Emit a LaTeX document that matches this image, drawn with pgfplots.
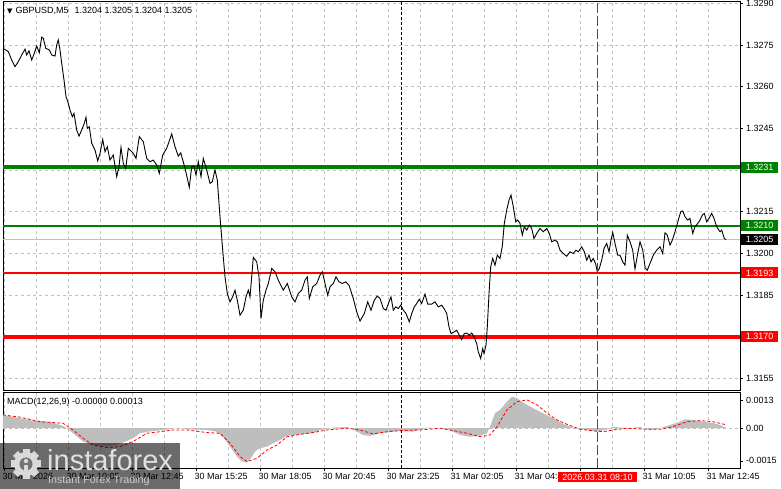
\documentclass[border=0pt]{standalone}
\usepackage{pgfplots}
\pgfplotsset{compat=1.18}
\usepackage{fontspec}
\setmainfont{Liberation Sans}
\newfontfamily\symfont{DejaVu Sans}
\definecolor{mtgreen}{RGB}{0,128,0}
\definecolor{mtred}{RGB}{255,0,0}
\definecolor{gridgray}{RGB}{192,192,192}
\definecolor{histgray}{RGB}{190,190,190}
\pgfplotsset{
  mtaxis/.style={
    scale only axis, width=737pt, xmin=3, xmax=740,
    axis line style={black, line width=0.8pt},
    grid style={gridgray, dash pattern=on 3pt off 3pt, line width=0.7pt},
    major grid style={gridgray, dash pattern=on 3pt off 3pt, line width=0.7pt},
    minor grid style={gridgray, dash pattern=on 3pt off 3pt, line width=0.7pt},
    tick style={black, line width=0.7pt},
    major tick length=3pt, minor tick length=0pt, tick align=outside,
    ytick pos=right, yticklabel pos=right,
    clip mode=individual,
    scaled y ticks=false,
    /pgf/number format/assume math mode=true,
    yticklabel style={anchor=west, inner sep=0pt, xshift=3pt},
    every tick label/.append style={font=\fontsize{9}{10}\selectfont},
    xtick={4,68,...,708}, minor xtick={36,100,...,676},
    xmajorgrids, xminorgrids,
  }
}
\begin{document}
\begin{tikzpicture}[font=\fontsize{9}{10}\selectfont]
\useasboundingbox (0pt,0pt) rectangle (781pt,489pt);
\fill[white] (0pt,0pt) rectangle (781pt,489pt);

% ---------------- main price panel ----------------
\begin{axis}[mtaxis, at={(3pt,99pt)}, anchor=south west, height=389pt,
  ymin=1.31509, ymax=1.32908,
  ytick={1.3155,1.3170,1.3185,1.3200,1.3215,1.3230,1.3245,1.3260,1.3275,1.3290},
  ymajorgrids,
  xticklabel=\empty, xtick style={draw=none},
  yticklabel style={/pgf/number format/fixed,/pgf/number format/fixed zerofill,/pgf/number format/precision=4},
]
% current price line
\addplot[gridgray, line width=0.8pt] coordinates {(3,1.3205) (740,1.3205)};
% levels
\addplot[mtgreen, line width=4pt] coordinates {(3,1.3231) (740,1.3231)};
\addplot[mtgreen, line width=2pt] coordinates {(3,1.3210) (740,1.3210)};
\addplot[mtred, line width=2pt] coordinates {(3,1.3193) (740,1.3193)};
\addplot[mtred, line width=4pt] coordinates {(3,1.3170) (740,1.3170)};
% price
\addplot[black, line width=0.9pt] coordinates {
(3,1.32738) (8.3,1.32726) (11.7,1.32696) (15,1.32672) (18.3,1.32690) (21.7,1.32714) (25,1.32735) (26.7,1.32714) (29,1.32729) (31.7,1.32696) (34.3,1.32720) (36.7,1.32746) (39.3,1.32722) (41.7,1.32778) (43.3,1.32774) (45.7,1.32738) (49.3,1.32732) (51.7,1.32714) (55,1.32710) (56.7,1.32750) (58.3,1.32768) (60,1.32732) (61.7,1.32684) (64,1.32624) (66,1.32564) (68.3,1.32540) (70,1.32516) (72.3,1.32492) (74,1.32504) (76.7,1.32444) (79,1.32422) (81.7,1.32444) (84.3,1.32468) (86,1.32490) (87.3,1.32450) (89.3,1.32456) (91.7,1.32396) (95,1.32372) (97.7,1.32333) (100,1.32360) (102.7,1.32410) (105,1.32366) (107.3,1.32384) (110,1.32336) (113.3,1.32354) (116.7,1.32276) (119,1.32312) (121,1.32382) (123.3,1.32324) (125.7,1.32306) (128.3,1.32378) (130.7,1.32370) (133.3,1.32360) (136,1.32342) (139.3,1.32420) (143.3,1.32402) (146.7,1.32342) (150,1.32330) (153.3,1.32336) (156.7,1.32318) (159.3,1.32288) (162.7,1.32354) (166.7,1.32378) (171.7,1.32430) (175,1.32384) (178.3,1.32350) (180.7,1.32362) (185,1.32307) (189.3,1.32238) (191.7,1.32312) (194,1.32314) (196,1.32282) (198.3,1.32330) (201,1.32276) (203.3,1.32342) (206.7,1.32300) (210,1.32252) (212.3,1.32258) (215,1.32300) (217.3,1.32264) (220,1.32132) (222.7,1.32012) (225,1.31916) (227.3,1.31856) (230,1.31826) (232.7,1.31844) (235,1.31868) (237.3,1.31832) (240,1.31778) (243.3,1.31796) (246,1.31844) (248.3,1.31868) (250,1.31844) (253.3,1.31986) (256.7,1.31970) (259,1.31916) (261,1.31766) (263.3,1.31832) (266,1.31868) (268.3,1.31892) (271.7,1.31946) (275,1.31934) (278.3,1.31904) (283.3,1.31868) (287.3,1.31892) (291.7,1.31844) (295,1.31826) (298.3,1.31856) (301.7,1.31868) (305,1.31904) (307.3,1.31916) (309.3,1.31838) (312.7,1.31880) (316.7,1.31892) (320,1.31922) (322.3,1.31934) (325,1.31892) (327.7,1.31850) (330,1.31880) (333.3,1.31892) (336,1.31916) (339,1.31898) (342.3,1.31892) (345.7,1.31898) (349,1.31886) (353.3,1.31838) (356.7,1.31790) (360,1.31757) (364.3,1.31784) (367.7,1.31826) (371,1.31796) (374.3,1.31832) (377.3,1.31847) (380,1.31838) (383.3,1.31802) (386,1.31796) (389,1.31826) (391,1.31844) (393.3,1.31796) (395.7,1.31808) (398.3,1.31802) (400.7,1.31814) (403.3,1.31796) (406,1.31784) (409.3,1.31754) (411.7,1.31784) (414.3,1.31808) (416.7,1.31820) (419.3,1.31835) (421.7,1.31820) (425,1.31854) (427.7,1.31818) (431.7,1.31818) (435,1.31826) (438.3,1.31808) (441.7,1.31814) (444,1.31802) (446.7,1.31784) (449,1.31736) (451,1.31712) (454,1.31718) (456.7,1.31724) (459.3,1.31706) (461.7,1.31690) (464.3,1.31712) (466.7,1.31714) (469.3,1.31706) (471.7,1.31714) (474,1.31700) (476.7,1.31676) (478.3,1.31646) (480.7,1.31622) (482.7,1.31658) (484,1.31640) (486,1.31670) (487.3,1.31736) (489,1.31856) (490.7,1.31952) (492.7,1.31982) (495,1.31958) (497.3,1.31994) (500,1.31982) (502.3,1.32026) (504.3,1.32108) (506.7,1.32156) (509,1.32192) (511,1.32210) (513.3,1.32168) (515.7,1.32114) (517.7,1.32120) (520,1.32108) (522.3,1.32066) (524.3,1.32096) (526.7,1.32084) (529.3,1.32102) (531.7,1.32090) (534,1.32054) (536.7,1.32072) (540,1.32090) (543.3,1.32078) (546.7,1.32090) (549.3,1.32072) (551.7,1.32042) (555,1.32048) (557.3,1.32042) (560,1.32012) (563.3,1.32000) (566.7,1.31990) (570,1.32006) (573.3,1.32000) (576,1.32012) (578.3,1.32006) (581.7,1.32024) (584.3,1.32006) (586.7,1.31976) (589,1.31994) (591,1.31970) (593.3,1.31982) (595.7,1.31962) (597.3,1.31934) (599.3,1.31946) (601.7,1.31976) (604,1.32018) (606.7,1.32036) (609,1.32006) (611,1.32048) (612.7,1.32076) (615,1.32036) (617.7,1.31994) (620,1.31994) (622.7,1.31970) (625,1.31958) (627.3,1.32066) (630,1.32042) (632.7,1.32012) (635,1.31944) (637.7,1.32000) (640,1.32042) (642.7,1.32012) (645.3,1.31946) (647.3,1.31940) (650,1.31964) (653.3,1.31994) (656.7,1.32012) (660,1.32024) (662.7,1.32000) (665,1.32074) (667.3,1.32066) (670,1.32030) (672.3,1.32048) (675,1.32078) (678.3,1.32120) (680.7,1.32150) (682.7,1.32153) (685,1.32132) (687.7,1.32120) (690,1.32126) (692.7,1.32072) (695,1.32096) (697.7,1.32108) (700,1.32120) (702.3,1.32138) (704.3,1.32144) (706.7,1.32114) (709,1.32126) (711.7,1.32144) (714,1.32126) (716.7,1.32096) (720,1.32078) (721.7,1.32084) (724.3,1.32054) (726,1.32050)
};
% separators
\addplot[black, dash pattern=on 3pt off 2pt, line width=0.8pt] coordinates {(401.5,1.31509) (401.5,1.32908)};
\addplot[mtred, dash pattern=on 10pt off 3pt, line width=0.8pt] coordinates {(597.5,1.31509) (597.5,1.32908)};
% price boxes
\node[fill=mtgreen, text=white, anchor=west, inner sep=0pt, minimum height=11pt, minimum width=37pt, xshift=1pt] at (axis cs:740,1.3231) {1.3231};
\node[fill=mtgreen, text=white, anchor=west, inner sep=0pt, minimum height=11pt, minimum width=37pt, xshift=1pt] at (axis cs:740,1.3210) {1.3210};
\node[fill=black, text=white, anchor=west, inner sep=0pt, minimum height=11pt, minimum width=37pt, xshift=1pt] at (axis cs:740,1.3205) {1.3205};
\node[fill=mtred, text=white, anchor=west, inner sep=0pt, minimum height=11pt, minimum width=37pt, xshift=1pt] at (axis cs:740,1.3193) {1.3193};
\node[fill=mtred, text=white, anchor=west, inner sep=0pt, minimum height=11pt, minimum width=37pt, xshift=1pt] at (axis cs:740,1.3170) {1.3170};
\end{axis}

% ---------------- MACD panel ----------------
\begin{axis}[mtaxis, at={(3pt,20.7pt)}, anchor=south west, height=76pt,
  ymin=-0.00184, ymax=0.00165,
  ytick={-0.0015,0,0.0013}, yticklabels={-0.0015,0.00,0.0013},
  xtick pos=bottom,
  xticklabels={30 Mar 2026,30 Mar 10:05,30 Mar 12:45,30 Mar 15:25,30 Mar 18:05,30 Mar 20:45,30 Mar 23:25,31 Mar 02:05,31 Mar 04:45,31 Mar 07:25,31 Mar 10:05,31 Mar 12:45},
  xticklabel style={anchor=north west, inner sep=0pt, xshift=-1.5pt, yshift=-2pt},
]
\addplot[gridgray, dash pattern=on 3pt off 3pt, line width=0.7pt] coordinates {(3,0) (740,0)};
\addplot[fill=histgray, draw=none] coordinates {
(3,0) (3,0.00061) (20,0.00046) (33,0.00035) (50,0.00030) (63,0.00010) (67,0) (73,-0.00023) (83,-0.00061) (93,-0.00077) (107,-0.00084) (117,-0.00077) (127,-0.00058) (133,-0.00046) (140,-0.00023) (147,-0.00016) (157,-0.00011) (170,-0.00005) (177,0.00003) (187,-0.00005) (207,-0.00008) (217,-0.00016) (223,-0.00039) (230,-0.00084) (237,-0.00130) (242,-0.00153) (247,-0.00158) (252,-0.00130) (255,-0.00107) (260,-0.00092) (267,-0.00084) (273,-0.00069) (280,-0.00054) (287,-0.00035) (300,-0.00028) (313,-0.00022) (320,-0.00008) (333,0.00003) (347,0.00005) (353,-0.00005) (363,-0.00031) (370,-0.00035) (380,-0.00023) (393,-0.00016) (400,-0.00011) (413,-0.00016) (427,0.00003) (440,0) (450,-0.00008) (460,-0.00031) (470,-0.00039) (480,-0.00035) (487,-0.00023) (490,0.00007) (495,0.00069) (500,0.00084) (507,0.00122) (512,0.00145) (517,0.00138) (523,0.00118) (533,0.00092) (543,0.00069) (553,0.00046) (563,0.00020) (573,0.00003) (587,-0.00008) (597,-0.00016) (607,-0.00005) (613,0.00007) (627,0) (640,0.00005) (650,-0.00008) (660,0) (670,0.00015) (680,0.00030) (685,0.00041) (693,0.00038) (703,0.00030) (713,0.00024) (720,0.00015) (727,0)
} -- cycle;
\addplot[mtred, dash pattern=on 3pt off 2pt, line width=0.8pt] coordinates {
(3,0.00061) (20,0.00051) (40,0.00030) (63,0.00023) (73,-0.00008) (83,-0.00046) (93,-0.00077) (107,-0.00089) (120,-0.00084) (133,-0.00061) (147,-0.00023) (160,-0.00016) (173,-0.00008) (187,-0.00008) (207,-0.00020) (220,-0.00023) (230,-0.00069) (240,-0.00130) (247,-0.00153) (257,-0.00138) (267,-0.00100) (277,-0.00077) (287,-0.00039) (300,-0.00028) (313,-0.00020) (327,-0.00008) (347,0) (360,-0.00008) (373,-0.00026) (387,-0.00016) (400,-0.00011) (420,-0.00008) (440,0) (453,-0.00011) (467,-0.00023) (480,-0.00039) (490,-0.00031) (497,0.00007) (507,0.00084) (517,0.00122) (527,0.00130) (537,0.00107) (547,0.00069) (557,0.00038) (567,0.00018) (580,-0.00005) (593,-0.00012) (603,-0.00016) (613,-0.00008) (627,0) (647,-0.00005) (660,-0.00005) (673,0.00007) (687,0.00030) (700,0.00035) (713,0.00030) (727,0.00015)
};
\addplot[black, dash pattern=on 3pt off 2pt, line width=0.8pt] coordinates {(401.5,-0.00184) (401.5,0.00165)};
\addplot[mtred, dash pattern=on 10pt off 3pt, line width=0.8pt] coordinates {(597.5,-0.00184) (597.5,0.00165)};
\node[fill=mtred, text=white, anchor=north, inner xsep=4.5pt, inner ysep=0pt, minimum height=10pt, yshift=-4pt] at (axis cs:597.5,-0.00184) {2026.03.31 08:10};
\end{axis}

% titles
\node[anchor=west, inner sep=0pt] at (7pt,478.3pt) {{\symfont\fontsize{7}{7}\selectfont ▼}\hspace{3pt}GBPUSD,M5\hspace{6pt}1.3204 1.3205 1.3204 1.3205};
\node[anchor=west, inner sep=0pt] at (7pt,87pt) {MACD(12,26,9) -0.00000 0.00013};

% logo
\fill[black, opacity=0.58] (0pt,0pt) rectangle (180pt,46pt);
\foreach \a in {0,45,...,315}
  \fill[white!85!black, rotate around={\a:(26pt,25pt)}] (22.5pt,34pt) rectangle (29.5pt,40pt);
\fill[white!85!black] (26pt,25pt) circle (12pt);
\fill[black!55] (26pt,25pt) circle (6.5pt);
\fill[white!85!black] (24pt,14pt) rectangle (28pt,24pt);
\fill[white!85!black] (26pt,28pt) circle (2.2pt);
\node[anchor=base west, inner sep=0pt, text=white!88!black, font=\fontsize{29}{30}\selectfont] at (47pt,18pt) {instaforex};
\node[anchor=base west, inner sep=0pt, text=white!80!black, font=\fontsize{10.7}{12}\selectfont] at (48pt,5pt) {Instant Forex Trading};
\end{tikzpicture}
\end{document}
